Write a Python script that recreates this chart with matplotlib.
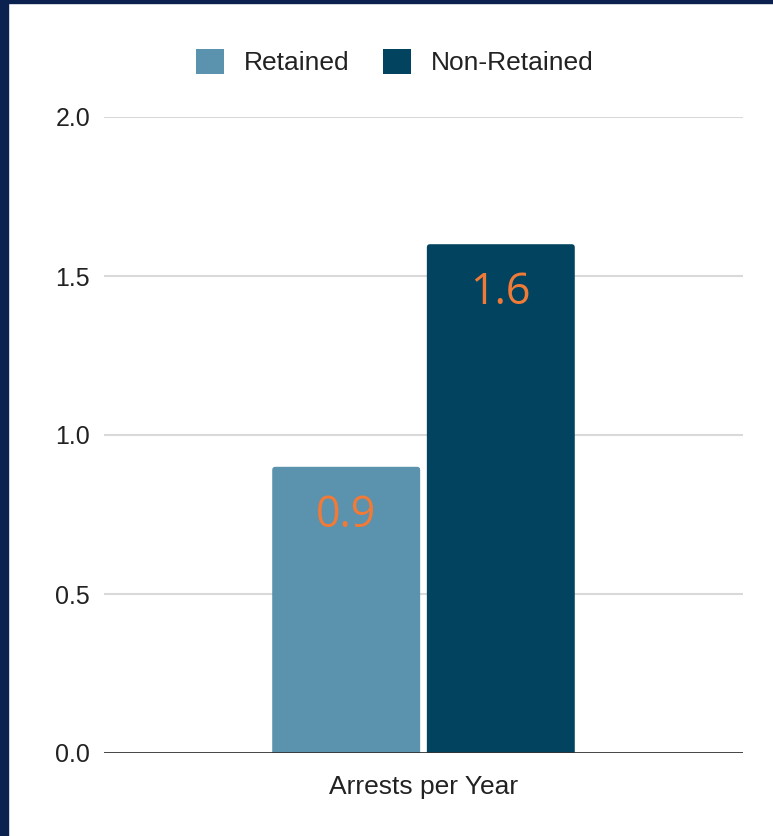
import matplotlib.pyplot as plt
from matplotlib.patches import Rectangle, FancyBboxPatch

# values
group = ['Arrests per Year']
series_names = ['Retained', 'Non-Retained']
retained = [0.9]
non_retained = [1.6]
yticks = [0.0, 0.5, 1.0, 1.5, 2.0]

colors = ['#5b92ae', '#02445f']
label_color = '#f07a36'

plt.rcParams['font.family'] = ['Liberation Sans', 'DejaVu Sans']

fig = plt.figure(figsize=(7.73, 8.36), dpi=100)
ax = fig.add_axes([104 / 773, 83 / 836, 639 / 773, 636 / 836])

# dark frame strips on the left and top of the panel
fig.patches.append(Rectangle((0, 0), 8 / 773, 1, transform=fig.transFigure,
                             color='#0b2250', zorder=10))
fig.patches.append(Rectangle((0, 1 - 3 / 836), 1, 3 / 836, transform=fig.transFigure,
                             color='#0b2250', zorder=10))

width = 0.463
offset = 0.242
x = [0]
b1 = ax.bar([v - offset for v in x], retained, width, color=colors[0],
            label=series_names[0], zorder=3)
b2 = ax.bar([v + offset for v in x], non_retained, width, color=colors[1],
            label=series_names[1], zorder=3)

# swap plain rectangles for slightly rounded ones (bottom hidden below the axis)
rs = 0.01
for bars in (b1, b2):
    for r in bars:
        r.set_visible(False)
        ax.add_patch(FancyBboxPatch((r.get_x(), -rs), r.get_width(), r.get_height() + rs,
                                    boxstyle=f'round,pad=0,rounding_size={rs}',
                                    fc=r.get_facecolor(), ec='none', zorder=3))
        ax.annotate(f'{r.get_height():.1f}', (r.get_x() + r.get_width() / 2, r.get_height()),
                    xytext=(0, -19), textcoords='offset points', ha='center', va='top',
                    fontsize=31, color=label_color, family=['Open Sans', 'DejaVu Sans'],
                    zorder=4)

ax.set_xlim(-1, 1)
ax.set_ylim(0, 2)
ax.set_yticks(yticks)
ax.set_yticklabels([f'{t:.1f}' for t in yticks], fontsize=18, color='#222222')
ax.set_xticks(x)
ax.set_xticklabels(group, fontsize=19, color='#222222')
ax.tick_params(axis='both', length=0)
ax.tick_params(axis='y', pad=10)
ax.tick_params(axis='x', pad=16)

for t in yticks[1:]:
    ax.axhline(t, color='#d9d9d9', lw=1.5, zorder=1)
ax.axhline(0, color='#333333', lw=2, zorder=5)
for s in ax.spines.values():
    s.set_visible(False)

leg = ax.legend(loc='upper center', bbox_to_anchor=(0.455, 1.144), ncol=2, frameon=False,
                fontsize=19, handlelength=1.05, handleheight=1.05, columnspacing=1.3,
                handletextpad=0.75, labelcolor='#222222')
for h in leg.legend_handles:
    h.set_visible(True)

fig.savefig('out.png', dpi=100, facecolor='white')
